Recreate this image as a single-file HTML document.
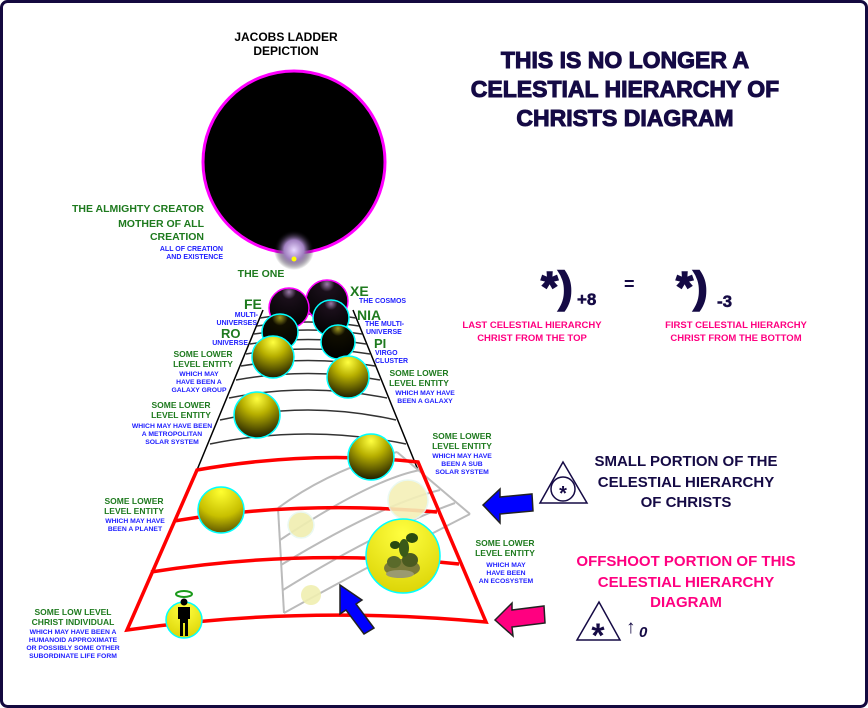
<!DOCTYPE html>
<html><head><meta charset="utf-8"><style>
html,body{margin:0;padding:0;background:#fff}
svg{display:block}
text{font-family:"Liberation Sans",Arial,sans-serif;font-weight:bold}
</style></head><body>
<svg width="868" height="708" viewBox="0 0 868 708" xmlns="http://www.w3.org/2000/svg">
<defs>
<radialGradient id="yb" cx="0.5" cy="0.15" r="0.95"><stop offset="0" stop-color="#ffff40"/><stop offset="0.35" stop-color="#b8b000"/><stop offset="1" stop-color="#000"/></radialGradient>
<radialGradient id="y" cx="0.5" cy="0.1" r="0.9"><stop offset="0" stop-color="#ffff30"/><stop offset="0.6" stop-color="#c8c000"/><stop offset="1" stop-color="#605800"/></radialGradient>
<radialGradient id="yl" cx="0.5" cy="0.2" r="0.9"><stop offset="0" stop-color="#ffff40"/><stop offset="1" stop-color="#d8d000"/></radialGradient>
<radialGradient id="bk" cx="0.5" cy="0.1" r="0.9"><stop offset="0" stop-color="#9a7aa8"/><stop offset="0.2" stop-color="#1a0f1a"/><stop offset="1" stop-color="#000"/></radialGradient>
<radialGradient id="bky" cx="0.5" cy="0.1" r="0.9"><stop offset="0" stop-color="#a09a20"/><stop offset="0.25" stop-color="#100e00"/><stop offset="1" stop-color="#000"/></radialGradient>
<radialGradient id="glow" cx="0.5" cy="0.5" r="0.5"><stop offset="0" stop-color="#e8d8ff"/><stop offset="0.5" stop-color="#a080c0"/><stop offset="1" stop-color="#000" stop-opacity="0"/></radialGradient>
</defs>
<rect x="1.5" y="1.5" width="865" height="705" rx="6" fill="#fff" stroke="#14093f" stroke-width="3"/>

<circle cx="294" cy="162" r="91" fill="#000" stroke="#ff00ff" stroke-width="3"/>
<circle cx="294" cy="250" r="20" fill="url(#glow)"/>
<circle cx="294" cy="259" r="2.5" fill="#ffff00"/>

<line x1="263" y1="310" x2="197" y2="470" stroke="#000" stroke-width="1.5"/>
<line x1="353" y1="310" x2="418" y2="470" stroke="#000" stroke-width="1.5"/>
<g fill="none" stroke="#333" stroke-width="1.5">
<path d="M260 318 Q308 310 356 318"/><path d="M257 326 Q308 318 359 326"/>
<path d="M254 334 Q308 326 362 334"/><path d="M250 344 Q308 335 366 344"/>
<path d="M246 354 Q308 344 370 354"/><path d="M241 366 Q308 355 375 366"/>
<path d="M236 380 Q308 367 380 380"/><path d="M229 398 Q308 382 387 398"/>
<path d="M220 420 Q308 400 396 420"/><path d="M210 444 Q308 424 406 444"/>
</g>
<g fill="none" stroke="#bbb" stroke-width="2">
<path d="M278 508 L284 613"/>
<path d="M278 508 Q330 470 397 452"/>
<path d="M397 452 L470 514"/>
<path d="M284 613 Q380 560 470 514"/>
<path d="M280 540 Q370 480 420 470"/>
<path d="M281 565 Q380 505 440 490"/>
<path d="M283 590 Q380 530 455 503"/>
</g>
<g fill="none" stroke="#ff0000" stroke-width="3.5">
<path d="M197 470 Q310 450 418 462 L486 622 Q300 605 127 630 Z"/>
<path d="M174 521 Q300 500 437 512"/>
<path d="M151 572 Q300 548 459 564"/>
</g>

<g stroke-width="1.5">
<circle cx="327" cy="301" r="21" fill="url(#bk)" stroke="#ff00ff"/>
<circle cx="289" cy="308" r="20" fill="url(#bk)" stroke="#ff00ff"/>
<circle cx="331" cy="318" r="18" fill="url(#bk)" stroke="#00ffff"/>
<circle cx="280" cy="332" r="18" fill="url(#bky)" stroke="#00ffff"/>
<circle cx="338" cy="342" r="17" fill="url(#bky)" stroke="#00ffff"/>
<circle cx="273" cy="357" r="21" fill="url(#yb)" stroke="#00ffff"/>
<circle cx="348" cy="377" r="21" fill="url(#yb)" stroke="#00ffff"/>
<circle cx="257" cy="415" r="23" fill="url(#yb)" stroke="#00ffff"/>
<circle cx="371" cy="457" r="23" fill="url(#yb)" stroke="#00ffff"/>
<circle cx="221" cy="510" r="23" fill="url(#y)" stroke="#00ffff"/>
<circle cx="301" cy="525" r="13" fill="#f0eeb0" stroke="#e8f8f0" opacity="0.9"/>
<circle cx="408" cy="500" r="20" fill="#f4f0b8" stroke="#e8f8f0" opacity="0.9"/>
<circle cx="403" cy="556" r="37" fill="url(#yl)" stroke="#00ffff"/>
<circle cx="311" cy="595" r="10" fill="#f0eeb0" opacity="0.9"/>
<circle cx="184" cy="620" r="18" fill="url(#yl)" stroke="#00ffff"/>
</g>
<!-- ecosystem foliage -->
<g>
<ellipse cx="402" cy="568" rx="18" ry="9" fill="#7a7a3a"/>
<ellipse cx="394" cy="562" rx="7" ry="6" fill="#5a6a2a"/>
<ellipse cx="410" cy="560" rx="8" ry="7" fill="#4a5a20"/>
<ellipse cx="404" cy="548" rx="5" ry="9" fill="#3a5a18"/>
<ellipse cx="412" cy="538" rx="6" ry="5" fill="#2a4a10"/>
<ellipse cx="395" cy="545" rx="5" ry="4" fill="#2a4a10"/>
<ellipse cx="400" cy="574" rx="14" ry="4" fill="#9a9a70"/>
</g>
<ellipse cx="184" cy="594" rx="8" ry="3" fill="none" stroke="#1a9a1a" stroke-width="2"/>
<circle cx="184" cy="602" r="3.5" fill="#000"/>
<path d="M178 607 h12 v12 h-2 v17 h-3 v-13 h-2 v13 h-3 v-17 h-2 Z" fill="#000"/>

<path d="M340 585 L362 600 L356 604 L374 628 L364 634 L346 610 L340 614 Z" fill="#0000ff" stroke="#222" stroke-width="1.5"/>
<path d="M483 505 L500 489 L500 497 L532 494 L533 511 L500 514 L500 523 Z" fill="#0000ff" stroke="#222" stroke-width="1.5"/>
<path d="M495 620 L512 603 L512 610 L544 606 L545 623 L512 627 L513 636 Z" fill="#ff0080" stroke="#222" stroke-width="1.5"/>

<g text-anchor="middle" fill="#000" font-size="12"><text x="286" y="41">JACOBS LADDER</text><text x="286" y="55">DEPICTION</text></g>
<g text-anchor="middle" fill="#150a45" stroke="#150a45" stroke-width="1" font-size="23"><text x="625" y="68">THIS IS NO LONGER A</text><text x="625" y="97">CELESTIAL HIERARCHY OF</text><text x="625" y="126">CHRISTS DIAGRAM</text></g>

<g text-anchor="end" fill="#1e7a1e" font-size="10.5">
<text x="204" y="212">THE ALMIGHTY CREATOR</text>
<text x="204" y="227">MOTHER OF ALL</text>
<text x="204" y="240">CREATION</text>
</g>
<g text-anchor="end" fill="#2020ff" font-size="7">
<text x="223" y="251">ALL OF CREATION</text><text x="223" y="259">AND EXISTENCE</text>
</g>
<text x="261" y="277" text-anchor="middle" fill="#1e7a1e" font-size="10.5">THE ONE</text>
<g fill="#1e7a1e" font-size="14"><text x="244" y="309">FE</text><text x="350" y="296">XE</text><text x="357" y="320">NIA</text><text x="221" y="338" font-size="13">RO</text><text x="374" y="348" font-size="13">PI</text></g>
<g fill="#2020ff" font-size="7">
<text x="359" y="303">THE COSMOS</text>
<text x="365" y="326">THE MULTI-</text><text x="366" y="334">UNIVERSE</text>
<text x="375" y="355">VIRGO</text><text x="375" y="363">CLUSTER</text>
</g>
<g fill="#2020ff" font-size="7" text-anchor="end">
<text x="258" y="317">MULTI-</text><text x="257" y="325">UNIVERSES</text>
<text x="248" y="345">UNIVERSE</text>
</g>
<g fill="#1e7a1e" font-size="8.5" text-anchor="middle">
<text x="203" y="357">SOME LOWER</text><text x="203" y="367">LEVEL ENTITY</text>
<text x="181" y="408">SOME LOWER</text><text x="181" y="418">LEVEL ENTITY</text>
<text x="419" y="376">SOME LOWER</text><text x="419" y="386">LEVEL ENTITY</text>
<text x="462" y="439">SOME LOWER</text><text x="462" y="449">LEVEL ENTITY</text>
<text x="134" y="504">SOME LOWER</text><text x="134" y="514">LEVEL ENTITY</text>
<text x="505" y="546">SOME LOWER</text><text x="505" y="556">LEVEL ENTITY</text>
<text x="73" y="615">SOME LOW LEVEL</text><text x="73" y="625">CHRIST INDIVIDUAL</text>
</g>
<g fill="#2020ff" font-size="6.8" text-anchor="middle">
<text x="199" y="376">WHICH MAY</text><text x="199" y="384">HAVE BEEN A</text><text x="199" y="392">GALAXY GROUP</text>
<text x="172" y="428">WHICH MAY HAVE BEEN</text><text x="172" y="436">A METROPOLITAN</text><text x="172" y="444">SOLAR SYSTEM</text>
<text x="425" y="395">WHICH MAY HAVE</text><text x="425" y="403">BEEN A GALAXY</text>
<text x="462" y="458">WHICH MAY HAVE</text><text x="462" y="466">BEEN A SUB</text><text x="462" y="474">SOLAR SYSTEM</text>
<text x="135" y="523">WHICH MAY HAVE</text><text x="135" y="531">BEEN A PLANET</text>
<text x="506" y="567">WHICH MAY</text><text x="506" y="575">HAVE BEEN</text><text x="506" y="583">AN ECOSYSTEM</text>
<text x="73" y="634">WHICH MAY HAVE BEEN A</text><text x="73" y="642">HUMANOID APPROXIMATE</text><text x="73" y="650">OR POSSIBLY SOME OTHER</text><text x="73" y="658">SUBORDINATE LIFE FORM</text>
</g>

<g fill="#150a45" stroke="#150a45">
<text x="541" y="302" font-size="44" stroke-width="1.5">*)</text><text x="577" y="305" font-size="17" stroke-width="0.5">+8</text>
<text x="624" y="290" font-size="18" stroke-width="0">=</text>
<text x="676" y="302" font-size="44" stroke-width="1.5">*)</text><text x="717" y="307" font-size="17" stroke-width="0.5">-3</text>
</g>
<g fill="#ff0080" font-size="9.5" text-anchor="middle">
<text x="532" y="328">LAST CELESTIAL HIERARCHY</text><text x="532" y="341">CHRIST FROM THE TOP</text>
<text x="736" y="328">FIRST CELESTIAL HIERARCHY</text><text x="736" y="341">CHRIST FROM THE BOTTOM</text>
</g>
<g fill="#150a45" font-size="15" text-anchor="middle">
<text x="686" y="466">SMALL PORTION OF THE</text><text x="686" y="487">CELESTIAL HIERARCHY</text><text x="686" y="507">OF CHRISTS</text>
</g>
<path d="M563 462 L540 503 L587 503 Z" fill="none" stroke="#150a45" stroke-width="1.5"/>
<circle cx="563" cy="489" r="12" fill="none" stroke="#150a45" stroke-width="1.5"/>
<text x="563" y="500" text-anchor="middle" fill="#150a45" font-size="20">*</text>
<g fill="#ff0080" font-size="15" text-anchor="middle">
<text x="686" y="566">OFFSHOOT PORTION OF THIS</text><text x="686" y="587">CELESTIAL HIERARCHY</text><text x="686" y="607">DIAGRAM</text>
</g>
<path d="M599 602 L577 640 L620 640 Z" fill="none" stroke="#150a45" stroke-width="1.5"/>
<text x="598" y="647" text-anchor="middle" fill="#150a45" font-size="34">*</text>
<text x="626" y="633" fill="#150a45" font-size="19">↑</text>
<text x="639" y="637" fill="#150a45" font-size="15" font-style="italic">0</text>
</svg>
</body></html>
